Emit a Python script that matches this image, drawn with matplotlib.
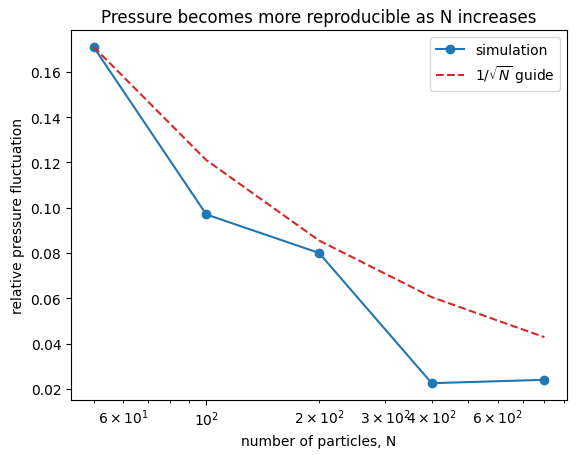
import matplotlib
matplotlib.use('Agg')
import matplotlib.pyplot as plt
from matplotlib.ticker import LogFormatterSciNotation

# nombre de particules et fluctuations
n_particles = [50, 100, 200, 400, 800]
simulation = [0.171, 0.097, 0.080, 0.0225, 0.024]
guide = [0.171, 0.121, 0.0855, 0.0605, 0.0428]

fig = plt.figure(figsize=(5.76, 4.56), dpi=100)
ax = fig.add_axes([0.1233, 0.1206, 0.8611, 0.8114])

ax.plot(n_particles, simulation, marker='o', color='tab:blue', label='simulation')
ax.plot(n_particles, guide, linestyle='--', color='tab:red', label=r'$1/\sqrt{N}$ guide')
ax.set_xscale('log')
# étiquettes sur les graduations mineures (2, 3, 4, 6)
ax.xaxis.set_minor_formatter(LogFormatterSciNotation(labelOnlyBase=False, minor_thresholds=(2, 0.4)))

ax.set_xlabel('number of particles, N')
ax.set_ylabel('relative pressure fluctuation')
ax.set_title('Pressure becomes more reproducible as N increases')
ax.legend()

fig.savefig('out.png', dpi=100)
